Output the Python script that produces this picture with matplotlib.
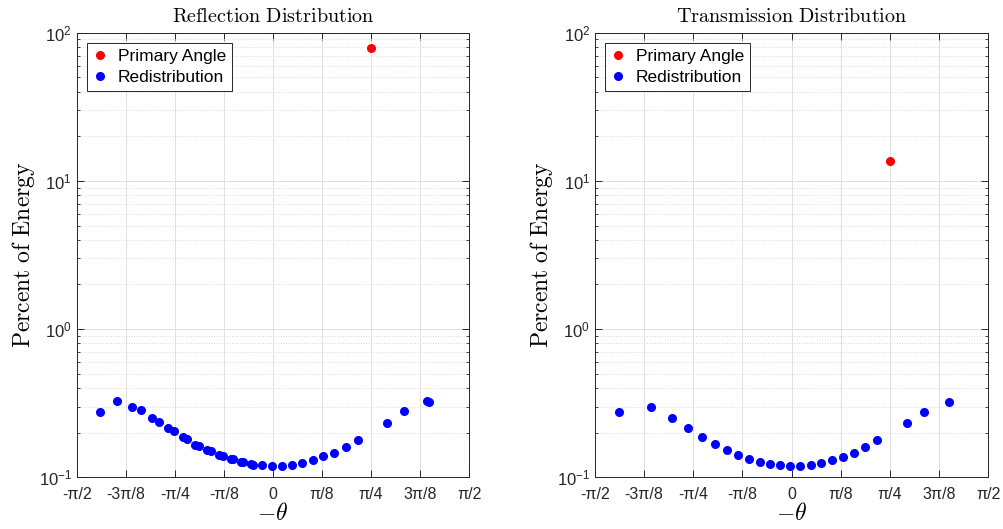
import numpy as np
import matplotlib
matplotlib.use("Agg")
import matplotlib.pyplot as plt
from matplotlib.ticker import LogLocator, NullFormatter

plt.rcParams['mathtext.fontset'] = 'custom'
plt.rcParams['mathtext.rm'] = 'Liberation Sans'
plt.rcParams['mathtext.it'] = 'Liberation Sans:italic'
plt.rcParams['font.family'] = ['Liberation Sans', 'DejaVu Sans']

# ---- data ----
refl_primary_angle = [0.785]
refl_primary_pct = [78.5]
refl_angle = [-1.384, -1.251, -1.128, -1.056, -0.968, -0.912, -0.838, -0.792,
              -0.723, -0.688, -0.622, -0.590, -0.526, -0.494, -0.430, -0.403,
              -0.339, -0.322, -0.254, -0.242, -0.174, -0.163, -0.090, -0.010,
              0.070, 0.150, 0.234, 0.318, 0.403, 0.490, 0.582, 0.680,
              0.910, 1.048, 1.235, 1.251]
refl_pct = [0.277, 0.329, 0.300, 0.283, 0.251, 0.237, 0.214, 0.204,
            0.186, 0.180, 0.166, 0.163, 0.152, 0.150, 0.141, 0.139,
            0.133, 0.132, 0.127, 0.127, 0.123, 0.122, 0.121, 0.119,
            0.120, 0.122, 0.1254, 0.131, 0.139, 0.147, 0.161, 0.179,
            0.234, 0.279, 0.329, 0.321]

trans_primary_angle = [0.785]
trans_primary_pct = [13.6]
trans_angle = [-1.381, -1.123, -0.958, -0.830, -0.716, -0.612, -0.519, -0.428,
               -0.339, -0.253, -0.173, -0.091, -0.011, 0.069, 0.152, 0.234,
               0.319, 0.407, 0.495, 0.585, 0.683, 0.918, 1.058, 1.255]
trans_pct = [0.277, 0.300, 0.251, 0.214, 0.186, 0.167, 0.152, 0.141,
             0.133, 0.127, 0.123, 0.121, 0.119, 0.120, 0.122, 0.1254,
             0.131, 0.138, 0.147, 0.160, 0.178, 0.234, 0.277, 0.322]

xtick_labels = ['-π/2', '-3π/8', '-π/4', '-π/8', '0', 'π/8', 'π/4', '3π/8', 'π/2']
ytick_vals = [0.1, 1, 10, 100]
ytick_labels = [r'$10^{-1}$', r'$10^{0}$', r'$10^{1}$', r'$10^{2}$']
titles = ['Reflection Distribution', 'Transmission Distribution']

fig = plt.figure(figsize=(10.04, 5.29), dpi=100)
positions = [[0.0764, 0.0977, 0.391, 0.8405], [0.5926, 0.0977, 0.3917, 0.8405]]
datasets = [(refl_primary_angle, refl_primary_pct, refl_angle, refl_pct),
            (trans_primary_angle, trans_primary_pct, trans_angle, trans_pct)]

axcol = (0.15, 0.15, 0.15)
for pos, (pa, pp, ra, rp), title in zip(positions, datasets, titles):
    ax = fig.add_axes(pos)
    ax.plot(pa, pp, 'o', color=(1, 0, 0), markersize=5.5, label='Primary Angle')
    ax.plot(ra, rp, 'o', color=(0, 0, 1), markersize=5.5, label='Redistribution')
    ax.set_yscale('log')
    ax.set_xlim(-np.pi / 2, np.pi / 2)
    ax.set_ylim(0.1, 100)
    ax.set_xticks(np.arange(-4, 5) * np.pi / 8)
    ax.set_xticklabels(xtick_labels, fontsize=11.5)
    ax.set_yticks(ytick_vals)
    ax.set_yticklabels(ytick_labels, fontsize=12)
    ax.yaxis.set_minor_locator(LogLocator(base=10, subs=np.arange(2, 10)))
    ax.yaxis.set_minor_formatter(NullFormatter())
    ax.tick_params(which='both', direction='in', top=True, right=True,
                   colors=axcol, labelcolor=(0.15, 0.15, 0.15))
    ax.tick_params(which='major', length=5, width=0.7)
    ax.tick_params(which='minor', length=2.5, width=0.6)
    ax.tick_params(axis='x', which='major', pad=7)
    for s in ax.spines.values():
        s.set_color(axcol)
        s.set_linewidth(0.7)
    ax.grid(True, which='major', color=(0.88, 0.88, 0.88), linewidth=0.7)
    ax.grid(True, which='minor', axis='y', color=(0.85, 0.85, 0.85),
            linestyle=':', linewidth=0.7)
    ax.set_axisbelow(True)
    ax.set_title(r'$\mathrm{' + title.replace(' ', r'\ ') + '}$',
                 math_fontfamily='cm', fontsize=14.5, pad=8, color='black')
    ax.set_xlabel(r'$-\theta$', math_fontfamily='cm', fontsize=17, labelpad=1)
    ax.set_ylabel(r'$\mathrm{Percent\ of\ Energy}$', math_fontfamily='cm',
                  fontsize=17, labelpad=1)
    leg = ax.legend(loc='upper left', fontsize=12.5, frameon=True, fancybox=False,
                    framealpha=1, edgecolor=axcol, handlelength=0.8,
                    handletextpad=0.6, borderpad=0.35, labelspacing=0.3,
                    borderaxespad=0.6)
    leg.get_frame().set_linewidth(0.7)

fig.savefig('out.png', dpi=100)
